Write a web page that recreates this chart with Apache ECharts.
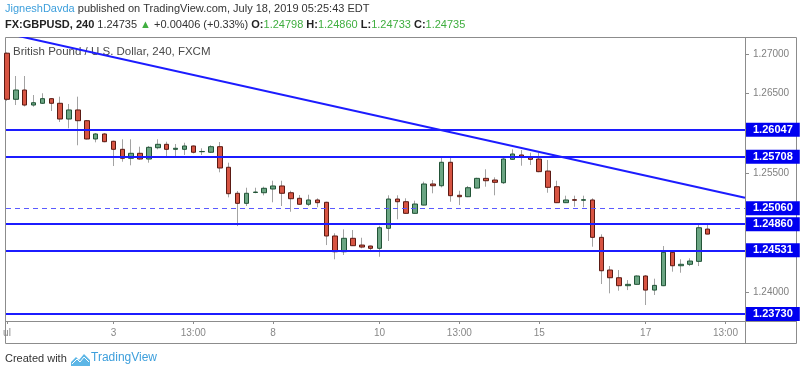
<!DOCTYPE html>
<html>
<head>
<meta charset="utf-8">
<script src="https://cdn.jsdelivr.net/npm/echarts@6/dist/echarts.min.js"></script>
<style>
  html, body { margin: 0; padding: 0; background: #fff; }
  #chart { width: 800px; height: 376px; }
</style>
</head>
<body>
<div id="chart"></div>
<script>
// GBPUSD 240 candles
var opens = [
  1.27010, 1.26430, 1.26547, 1.26358, 1.26380, 1.26438, 1.26380, 1.26182, 1.26296, 1.26161,
  1.25931, 1.25994, 1.25902, 1.25801, 1.25688, 1.25751, 1.25679, 1.25821, 1.25864, 1.25801,
  1.25801, 1.25843, 1.25771, 1.25764, 1.25834, 1.25575, 1.25248, 1.25122, 1.25258, 1.25255,
  1.25302, 1.25340, 1.25255, 1.25185, 1.25110, 1.25164, 1.25135, 1.24711, 1.24513, 1.24682,
  1.24597, 1.24585, 1.24556, 1.24808, 1.25176, 1.25142, 1.24996, 1.25100, 1.25365, 1.25343,
  1.25638, 1.25223, 1.25205, 1.25314, 1.25436, 1.25415, 1.25381, 1.25675, 1.25730, 1.25700,
  1.25679, 1.25528, 1.25331, 1.25130, 1.25168, 1.25160, 1.25164, 1.24694, 1.24283, 1.24186,
  1.24086, 1.24103, 1.24208, 1.24031, 1.24086, 1.24506, 1.24337, 1.24355, 1.24392, 1.24798
];
var closes = [
  1.26430, 1.26547, 1.26358, 1.26387, 1.26438, 1.26380, 1.26182, 1.26296, 1.26161, 1.25931,
  1.25994, 1.25897, 1.25801, 1.25688, 1.25751, 1.25679, 1.25826, 1.25864, 1.25801, 1.25814,
  1.25843, 1.25764, 1.25774, 1.25834, 1.25566, 1.25243, 1.25122, 1.25248, 1.25264, 1.25311,
  1.25340, 1.25248, 1.25180, 1.25110, 1.25164, 1.25130, 1.24711, 1.24513, 1.24682, 1.24589,
  1.24572, 1.24556, 1.24815, 1.25176, 1.25142, 1.24996, 1.25113, 1.25365, 1.25343, 1.25638,
  1.25218, 1.25205, 1.25318, 1.25436, 1.25406, 1.25386, 1.25679, 1.25742, 1.25700, 1.25675,
  1.25520, 1.25323, 1.25130, 1.25164, 1.25160, 1.25168, 1.24694, 1.24274, 1.24186, 1.24086,
  1.24103, 1.24208, 1.24031, 1.24090, 1.24506, 1.24337, 1.24355, 1.24396, 1.24815, 1.24735
];
var lows = [
  1.26410, 1.26358, 1.26340, 1.26337, 1.26371, 1.26283, 1.26145, 1.26065, 1.25852, 1.25925,
  1.25889, 1.25890, 1.25591, 1.25645, 1.25600, 1.25670, 1.25633, 1.25801, 1.25701, 1.25708,
  1.25730, 1.25750, 1.25730, 1.25755, 1.25512, 1.25197, 1.24836, 1.25088, 1.25248, 1.25222,
  1.25135, 1.25088, 1.25016, 1.25103, 1.25088, 1.25072, 1.24597, 1.24418, 1.24472, 1.24585,
  1.24556, 1.24522, 1.24450, 1.24648, 1.24921, 1.24992, 1.24992, 1.25096, 1.25248, 1.25323,
  1.25142, 1.25100, 1.25200, 1.25310, 1.25331, 1.25223, 1.25365, 1.25667, 1.25595, 1.25604,
  1.25513, 1.25255, 1.25125, 1.25125, 1.25079, 1.25072, 1.24576, 1.24107, 1.23990, 1.24023,
  1.24031, 1.24099, 1.23843, 1.23969, 1.24080, 1.24262, 1.24249, 1.24333, 1.24333, 1.24733
];
var highs = [
  1.27020, 1.26723, 1.26723, 1.26484, 1.26506, 1.26445, 1.26463, 1.26371, 1.26463, 1.26170,
  1.26006, 1.26006, 1.25910, 1.25927, 1.25927, 1.25834, 1.25843, 1.25927, 1.25897, 1.25868,
  1.25884, 1.25850, 1.25814, 1.25852, 1.25893, 1.25633, 1.25277, 1.25318, 1.25318, 1.25331,
  1.25406, 1.25406, 1.25280, 1.25226, 1.25230, 1.25185, 1.25142, 1.24745, 1.24795, 1.24786,
  1.24689, 1.24590, 1.24840, 1.25223, 1.25223, 1.25185, 1.25155, 1.25394, 1.25415, 1.25717,
  1.25717, 1.25280, 1.25340, 1.25444, 1.25550, 1.25449, 1.25717, 1.25801, 1.25792, 1.25758,
  1.25758, 1.25667, 1.25406, 1.25218, 1.25218, 1.25218, 1.25185, 1.24732, 1.24333, 1.24283,
  1.24157, 1.24216, 1.24220, 1.24174, 1.24585, 1.24526, 1.24418, 1.24430, 1.24858, 1.24860
];

// horizontal levels drawn on the chart
var levels = [1.26047, 1.25708, 1.24860, 1.24531, 1.23730];
var dashedLevel = 1.25060;
// falling trend line: [bar index, price]
var trendLine = [[0, 1.27258], [83.2, 1.25192]];

var priceTicks = [1.24, 1.255, 1.265, 1.27];
var timeTickIdx = [0, 12, 21, 30, 42, 51, 60, 72, 81];
var timeTickText = ['ul', '3', '13:00', '8', '10', '13:00', '15', '17', '13:00'];

var fullBars = opens.map(function (o, i) {
    return [i, o, closes[i], lows[i], highs[i]];
});
// bodies only (no wick), drawn over the grey wicks
var bodyBars = opens.map(function (o, i) {
    return [i, o, closes[i], Math.min(o, closes[i]), Math.max(o, closes[i])];
});

var blue = '#1c1cff';
var frame = '#8c8c8c';

var levelMarks = levels.map(function (v) { return { yAxis: v }; });
levelMarks.push({ yAxis: dashedLevel, lineStyle: { type: [5, 4], width: 1, color: '#5a5aff' } });

var chart = echarts.init(document.getElementById('chart'));
chart.setOption({
    animation: false,
    grid: { left: 6, right: 55, top: 38, bottom: 55 },
    xAxis: {
        type: 'value',
        min: -0.11,
        max: 83.2,
        axisLine: { show: false, onZero: false },
        splitLine: { show: false },
        axisTick: { customValues: timeTickIdx, length: 3, lineStyle: { color: frame } },
        axisLabel: {
            customValues: timeTickIdx,
            margin: 7,
            color: '#888',
            fontSize: 10,
            fontFamily: 'Liberation Sans',
            formatter: function (v) {
                var k = timeTickIdx.indexOf(Math.round(v));
                return k < 0 ? '' : timeTickText[k];
            }
        }
    },
    yAxis: {
        type: 'value',
        position: 'right',
        min: 1.23642,
        max: 1.27201,
        axisLine: { show: false, onZero: false },
        splitLine: { show: false },
        axisTick: { customValues: priceTicks, length: 4, lineStyle: { color: frame } },
        axisLabel: {
            customValues: priceTicks,
            margin: 8,
            color: '#808080',
            fontSize: 10,
            fontFamily: 'Liberation Sans',
            formatter: function (v) { return v.toFixed(5); }
        }
    },
    series: [
        {
            name: 'wicks',
            type: 'candlestick',
            barWidth: 1,
            data: fullBars,
            itemStyle: {
                color: '#a3a3a3', color0: '#a3a3a3',
                borderColor: '#a3a3a3', borderColor0: '#a3a3a3', borderColorDoji: '#a3a3a3',
                borderWidth: 1
            },
            silent: true
        },
        {
            name: 'GBPUSD',
            type: 'candlestick',
            barWidth: 5,
            data: bodyBars,
            itemStyle: {
                color: '#6ba583', color0: '#d75442',
                borderColor: '#225437', borderColor0: '#5b1a13', borderColorDoji: '#5b1a13',
                borderWidth: 1
            },
            silent: true
        },
        {
            name: 'trend',
            type: 'line',
            data: trendLine,
            symbol: 'none',
            clip: true,
            silent: true,
            lineStyle: { color: blue, width: 2 },
            markLine: {
                silent: true,
                precision: 5,
                symbol: ['none', 'none'],
                lineStyle: { color: blue, width: 2, type: 'solid' },
                label: {
                    show: true,
                    position: 'end',
                    distance: 1,
                    color: '#fff',
                    backgroundColor: '#0000f0',
                    fontWeight: 'bold',
                    fontSize: 11,
                    fontFamily: 'Liberation Sans',
                    padding: [2, 7, 1, 7],
                    formatter: function (p) { return Number(p.value).toFixed(5); }
                },
                data: levelMarks
            }
        }
    ],
    graphic: [
        {
            type: 'rect', z: 0, silent: true,
            shape: { x: 5.5, y: 37.5, width: 791, height: 306 },
            style: { fill: 'none', stroke: frame, lineWidth: 1 }
        },
        {
            type: 'line', z: 0, silent: true,
            shape: { x1: 745.5, y1: 37.5, x2: 745.5, y2: 343.5 },
            style: { stroke: frame, lineWidth: 1 }
        },
        {
            type: 'line', z: 0, silent: true,
            shape: { x1: 5.5, y1: 321.5, x2: 796.5, y2: 321.5 },
            style: { stroke: frame, lineWidth: 1 }
        },
        {
            type: 'text', left: 5, top: 3, silent: true,
            style: {
                text: '{a|JigneshDavda} published on TradingView.com, July 18, 2019 05:25:43 EDT',
                fill: '#333', fontSize: 11, fontFamily: 'Liberation Sans',
                rich: { a: { fill: '#3d9fdc', fontSize: 11, fontFamily: 'Liberation Sans' } }
            }
        },
        {
            type: 'text', left: 5, top: 19, silent: true,
            style: {
                text: '{b|FX:GBPUSD, 240} 1.24735 {g|▲} +0.00406 (+0.33%) {b|O:}{g|1.24798} {b|H:}{g|1.24860} {b|L:}{g|1.24733} {b|C:}{g|1.24735}',
                fill: '#333', fontSize: 11, fontFamily: 'Liberation Sans',
                rich: {
                    b: { fill: '#222', fontWeight: 'bold', fontSize: 11, fontFamily: 'Liberation Sans' },
                    g: { fill: '#3fae3f', fontSize: 11, fontFamily: 'Liberation Sans' }
                }
            }
        },
        {
            type: 'text', left: 13, top: 46, silent: true,
            style: {
                text: 'British Pound / U.S. Dollar, 240, FXCM',
                fill: '#4a4a4a', fontSize: 11.5, fontFamily: 'Liberation Sans'
            }
        },
        {
            type: 'text', left: 5, top: 353, silent: true,
            style: { text: 'Created with', fill: '#333', fontSize: 11, fontFamily: 'Liberation Sans' }
        },
        {
            type: 'polygon', silent: true,
            shape: { points: [[71, 366], [71, 362], [76, 357], [79, 360], [84, 354], [90, 360], [90, 366]] },
            style: { fill: '#5cb6e6' }
        },
        {
            type: 'polyline', silent: true,
            shape: { points: [[72, 364], [77, 359], [80, 362], [84, 357], [89, 362]] },
            style: { stroke: '#fff', lineWidth: 1, fill: 'none' }
        },
        {
            type: 'text', left: 91, top: 352, silent: true,
            style: { text: 'TradingView', fill: '#3d9fdc', fontSize: 12, fontFamily: 'Liberation Sans' }
        }
    ]
});
</script>
</body>
</html>
